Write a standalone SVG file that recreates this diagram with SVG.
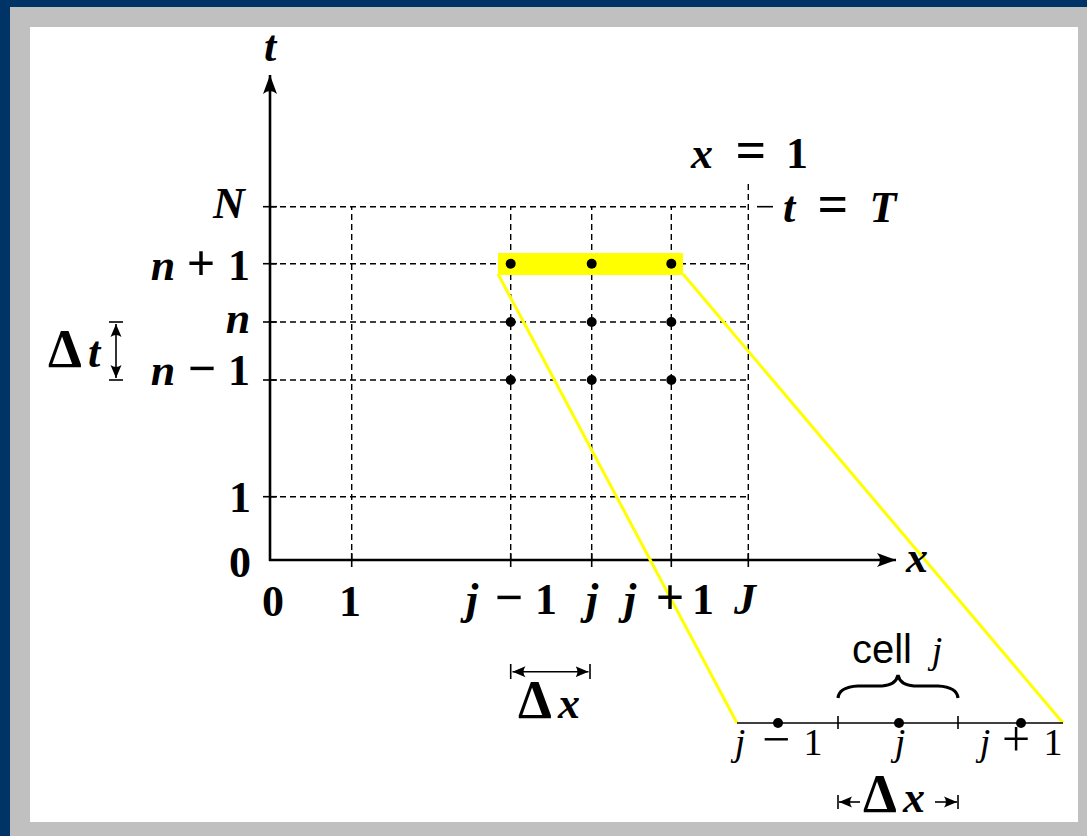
<svg xmlns="http://www.w3.org/2000/svg" width="1087" height="836" viewBox="0 0 1087 836">
<style>
.m{font-family:"Liberation Serif","DejaVu Serif",serif;font-weight:bold;font-size:44px;fill:#000}
.i{font-style:italic}
.op{font-size:50px}
.eq{font-size:54px}
.d{font-size:54px}
.r{font-family:"Liberation Serif","DejaVu Serif",serif;font-size:38px;fill:#000}
.rop{font-size:50px}
.s{font-family:"Liberation Sans",Arial,sans-serif;font-size:40px;fill:#000}
.grid{stroke:#000;stroke-width:1.4;stroke-dasharray:6 4;fill:none}
.ax{stroke:#000;stroke-width:2.6;fill:none}
.tk{stroke:#000;stroke-width:1.6;fill:none}
.yl{stroke:#ffff00;stroke-width:3;fill:none}
</style>
<defs>
<marker id="ah" viewBox="0 0 20 16" refX="19" refY="8" markerWidth="20" markerHeight="16" markerUnits="userSpaceOnUse" orient="auto">
<path d="M19,8 L0,1 Q6,8 0,15 Z" fill="#000"/>
</marker>
<marker id="ahs" viewBox="0 0 14 12" refX="13" refY="6" markerWidth="14" markerHeight="12" markerUnits="userSpaceOnUse" orient="auto-start-reverse">
<path d="M13,6 L0,0.5 Q4,6 0,11.5 Z" fill="#000"/>
</marker>
</defs>
<rect x="0" y="0" width="1087" height="836" fill="#003366"/>
<rect x="10" y="7" width="1077" height="829" fill="#c0c0c0"/>
<rect x="30" y="27" width="1048" height="795" fill="#fff"/>

<g id="grid">
<line class="grid" x1="270" y1="206.7" x2="748.3" y2="206.7"/>
<line class="grid" x1="270" y1="263.7" x2="748.3" y2="263.7"/>
<line class="grid" x1="270" y1="322" x2="748.3" y2="322"/>
<line class="grid" x1="270" y1="380" x2="748.3" y2="380"/>
<line class="grid" x1="270" y1="496.7" x2="748.3" y2="496.7"/>
<line class="grid" x1="351.7" y1="560" x2="351.7" y2="206.7"/>
<line class="grid" x1="510.7" y1="560" x2="510.7" y2="206.7"/>
<line class="grid" x1="591.7" y1="560" x2="591.7" y2="206.7"/>
<line class="grid" x1="671.3" y1="560" x2="671.3" y2="206.7"/>
<line class="grid" x1="748.3" y1="560" x2="748.3" y2="183"/>
<line class="tk" x1="757" y1="206.7" x2="773" y2="206.7"/>
</g>

<g id="highlight">
<rect x="498" y="253" width="185" height="22" fill="#ffff00"/>
</g>

<g id="connectors">
<line class="ax" x1="270" y1="561" x2="270" y2="75" marker-end="url(#ah)"/>
<line class="ax" x1="269" y1="560" x2="896" y2="560" marker-end="url(#ah)"/>
<line class="tk" x1="263" y1="206.7" x2="277" y2="206.7"/>
<line class="tk" x1="263" y1="263.7" x2="277" y2="263.7"/>
<line class="tk" x1="263" y1="322" x2="277" y2="322"/>
<line class="tk" x1="263" y1="380" x2="277" y2="380"/>
<line class="tk" x1="263" y1="496.7" x2="277" y2="496.7"/>
<line class="tk" x1="351.7" y1="553" x2="351.7" y2="567"/>
<line class="tk" x1="510.7" y1="553" x2="510.7" y2="567"/>
<line class="tk" x1="591.7" y1="553" x2="591.7" y2="567"/>
<line class="tk" x1="671.3" y1="553" x2="671.3" y2="567"/>
<line class="tk" x1="748.3" y1="553" x2="748.3" y2="567"/>
<line class="yl" x1="498" y1="274" x2="737" y2="723"/>
<line class="yl" x1="683" y1="274" x2="1063" y2="723"/>
<line class="tk" x1="116" y1="324" x2="116" y2="378" marker-start="url(#ahs)" marker-end="url(#ahs)"/>
<line class="tk" x1="109" y1="322" x2="123" y2="322"/>
<line class="tk" x1="109" y1="380" x2="123" y2="380"/>
<line class="tk" x1="512.5" y1="671.7" x2="588.5" y2="671.7" marker-start="url(#ahs)" marker-end="url(#ahs)"/>
<line class="tk" x1="510.7" y1="664" x2="510.7" y2="679"/>
<line class="tk" x1="590" y1="664" x2="590" y2="679"/>
<line stroke="#000" stroke-width="1.6" x1="737" y1="723" x2="1063" y2="723"/>
<line class="tk" x1="838" y1="716" x2="838" y2="729"/>
<line class="tk" x1="958" y1="716" x2="958" y2="729"/>
<line class="tk" x1="839" y1="802" x2="860" y2="802" marker-start="url(#ahs)"/>
<line class="tk" x1="935" y1="802" x2="957" y2="802" marker-end="url(#ahs)"/>
<line class="tk" x1="838" y1="795" x2="838" y2="809"/>
<line class="tk" x1="958" y1="795" x2="958" y2="809"/>
<path d="M838,698 Q839,687 858,686 L882,686 Q896,685 898,675 Q900,685 914,686 L938,686 Q957,687 958,698" fill="none" stroke="#000" stroke-width="3.2"/>
</g>

<g id="dots" fill="#000">
<circle cx="510.7" cy="263.7" r="5"/><circle cx="591.7" cy="263.7" r="5"/><circle cx="671.3" cy="263.7" r="5"/>
<circle cx="510.7" cy="322" r="5"/><circle cx="591.7" cy="322" r="5"/><circle cx="671.3" cy="322" r="5"/>
<circle cx="510.7" cy="380" r="5"/><circle cx="591.7" cy="380" r="5"/><circle cx="671.3" cy="380" r="5"/>
<circle cx="778" cy="723" r="5"/><circle cx="899" cy="723" r="5"/><circle cx="1021" cy="723" r="5"/>
</g>

<g id="labels" text-anchor="middle">
<text class="m i" x="270" y="61">t</text>
<text class="m i" x="917" y="572">x</text>
<text class="m i" x="229" y="218">N</text>
<text class="m"><tspan class="i" x="163" y="280">n</tspan><tspan class="op" x="201" y="280">+</tspan><tspan x="239" y="280">1</tspan></text>
<text class="m i" x="238" y="333">n</text>
<text class="m"><tspan class="i" x="163" y="385">n</tspan><tspan class="op" x="202" y="385">−</tspan><tspan x="239" y="385">1</tspan></text>
<text class="m"><tspan class="d" x="65" y="367">Δ</tspan><tspan class="i" x="94" y="367">t</tspan></text>
<text class="m" x="240" y="512">1</text>
<text class="m" x="240" y="577">0</text>
<text class="m" x="273" y="616">0</text>
<text class="m" x="350" y="616">1</text>
<text class="m"><tspan class="i" x="472" y="614">j</tspan><tspan class="op" x="509" y="614">−</tspan><tspan x="546" y="614">1</tspan></text>
<text class="m i" x="592" y="614">j</text>
<text class="m"><tspan class="i" x="630" y="614">j</tspan><tspan class="op" x="670" y="614">+</tspan><tspan x="703" y="614">1</tspan></text>
<text class="m i" x="745" y="614">J</text>
<text class="m"><tspan class="i" x="702" y="168">x</tspan><tspan class="eq" x="751" y="168">=</tspan><tspan x="797" y="168">1</tspan></text>
<text class="m"><tspan class="i" x="789" y="222">t</tspan><tspan class="eq" x="833" y="222">=</tspan><tspan class="i" x="883" y="222">T</tspan></text>
<text class="m"><tspan class="d" x="535" y="718">Δ</tspan><tspan class="i" x="569" y="718">x</tspan></text>
<text class="r"><tspan class="i" x="740" y="755">j</tspan><tspan class="rop" x="776" y="756">−</tspan><tspan x="813" y="755">1</tspan></text>
<text class="r i" x="900" y="755">j</text>
<text class="r"><tspan class="i" x="985" y="755">j</tspan><tspan class="rop" x="1016" y="756">+</tspan><tspan x="1053" y="755">1</tspan></text>
<text class="s" x="882" y="663">cell</text>
<text class="r i" x="937" y="663">j</text>
<text class="m"><tspan class="d" x="880" y="812">Δ</tspan><tspan class="i" x="914" y="812">x</tspan></text>
</g>
</svg>
